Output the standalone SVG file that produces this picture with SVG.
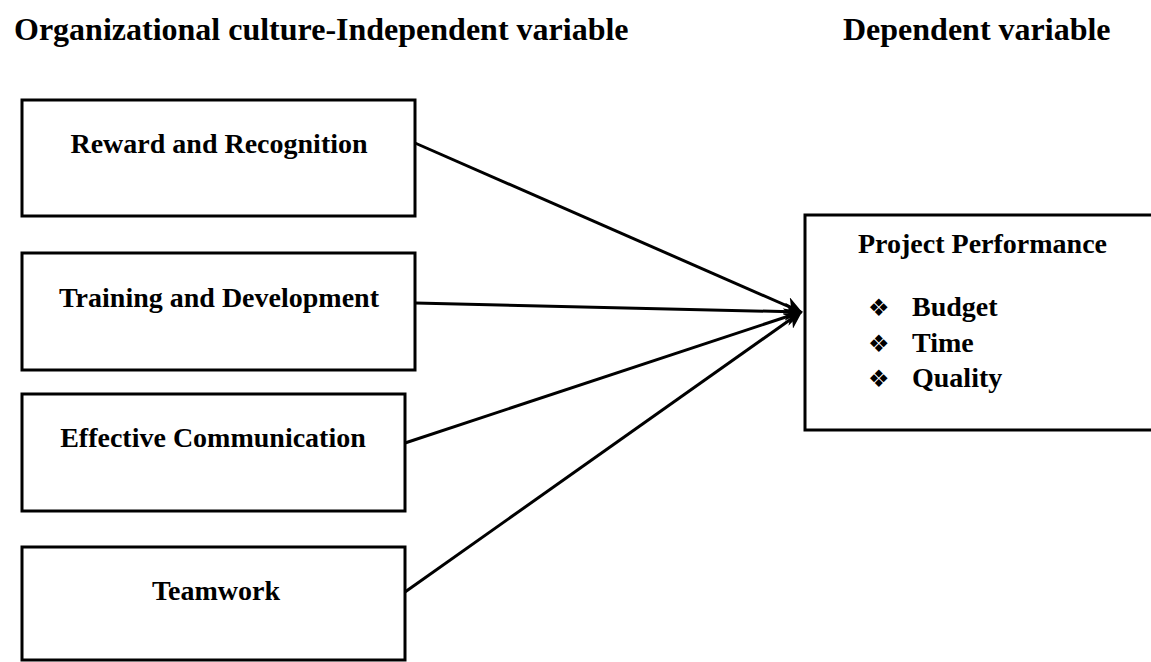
<svg xmlns="http://www.w3.org/2000/svg" width="1151" height="662" viewBox="0 0 1151 662">
  <defs>
    <style>
      .box { fill: #ffffff; stroke: #000000; stroke-width: 3; }
      .hdr { font-family: "Liberation Serif", "Times New Roman", serif; font-weight: bold; font-size: 32px; fill: #000; }
      .lbl { font-family: "Liberation Serif", "Times New Roman", serif; font-weight: bold; font-size: 28px; fill: #000; text-anchor: middle; }
      .itm { font-family: "Liberation Serif", "Times New Roman", serif; font-weight: bold; font-size: 28px; fill: #000; }
      .bul { font-family: "DejaVu Sans", sans-serif; font-size: 24px; fill: #000; }
      .conn { stroke: #000000; stroke-width: 3; fill: none; }
    </style>
    <marker id="arrow" viewBox="0 0 10 10" refX="9" refY="5" markerWidth="6" markerHeight="6" markerUnits="strokeWidth" orient="auto">
      <path d="M0,0 L10,5 L0,10 L3,5 Z" fill="#000"/>
    </marker>
  </defs>
  <rect width="1151" height="662" fill="#ffffff"/>

  <g id="headers">
    <text class="hdr" x="14" y="40">Organizational culture-Independent variable</text>
    <text class="hdr" x="843" y="40">Dependent variable</text>
  </g>

  <g id="connectors">
    <line class="conn" x1="415" y1="143" x2="801" y2="312" marker-end="url(#arrow)"/>
    <line class="conn" x1="415" y1="303" x2="801" y2="312" marker-end="url(#arrow)"/>
    <line class="conn" x1="405" y1="443" x2="801" y2="312" marker-end="url(#arrow)"/>
    <line class="conn" x1="405" y1="592" x2="801" y2="312" marker-end="url(#arrow)"/>
  </g>

  <g id="node-reward">
    <rect class="box" x="22" y="100" width="393" height="116"/>
    <text class="lbl" x="219" y="153">Reward and Recognition</text>
  </g>
  <g id="node-training">
    <rect class="box" x="22" y="253" width="393" height="117"/>
    <text class="lbl" x="219" y="307">Training and Development</text>
  </g>
  <g id="node-communication">
    <rect class="box" x="22" y="394" width="383" height="117"/>
    <text class="lbl" x="213" y="447">Effective Communication</text>
  </g>
  <g id="node-teamwork">
    <rect class="box" x="22" y="547" width="383" height="113"/>
    <text class="lbl" x="216" y="600">Teamwork</text>
  </g>

  <g id="node-performance">
    <rect class="box" x="805" y="215" width="360" height="215"/>
    <text class="itm" x="858" y="253">Project Performance</text>
    <text class="bul" x="868" y="316">❖</text>
    <text class="itm" x="912" y="316">Budget</text>
    <text class="bul" x="868" y="352">❖</text>
    <text class="itm" x="912" y="352">Time</text>
    <text class="bul" x="868" y="387">❖</text>
    <text class="itm" x="912" y="387">Quality</text>
  </g>
</svg>
